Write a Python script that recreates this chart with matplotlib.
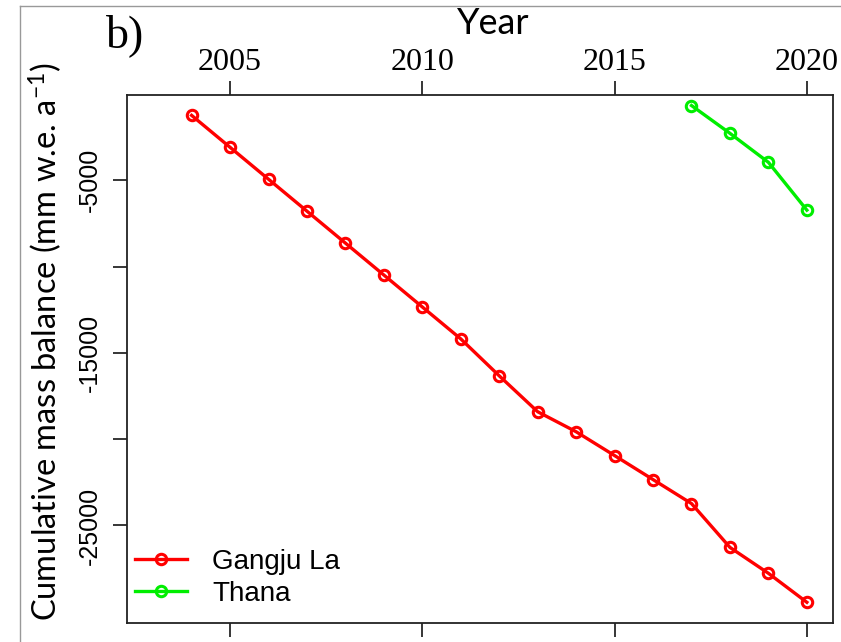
import matplotlib
matplotlib.use("Agg")
import matplotlib.pyplot as plt
from matplotlib.lines import Line2D

# Cumulative mass balance (mm w.e.)
gangju_years = [2004, 2005, 2006, 2007, 2008, 2009, 2010, 2011, 2012,
                2013, 2014, 2015, 2016, 2017, 2018, 2019, 2020]
gangju_cmb = [-1240, -3090, -4940, -6790, -8640, -10490, -12340, -14190, -16330,
              -18410, -19570, -20950, -22340, -23730, -26270, -27770, -29450]

thana_years = [2017, 2018, 2019, 2020]
thana_cmb = [-670, -2280, -3960, -6730]

x_ticks = [2005, 2010, 2015, 2020]
y_ticks = [-5000, -10000, -15000, -20000, -25000]
y_tick_labels = ["-5000", "", "-15000", "", "-25000"]

plt.rcParams["mathtext.default"] = "regular"

W, H = 841, 642
fig = plt.figure(figsize=(W / 100, H / 100), dpi=100)
ax = fig.add_axes([127 / W, 1 - 623 / H, (833 - 127) / W, (623 - 95) / H])

ax.plot(gangju_years, gangju_cmb, color="#ff0000", lw=2.4, marker="o",
        markersize=7.5, markerfacecolor="none", markeredgewidth=2.2, label="Gangju La")
ax.plot(thana_years, thana_cmb, color="#00ee00", lw=2.4, marker="o",
        markersize=7.5, markerfacecolor="none", markeredgewidth=2.2, label="Thana")

ax.set_xlim(2002.32, 2020.68)
ax.set_ylim(-30650, -60)

ax.set_xticks(x_ticks)
ax.set_xticklabels([str(x) for x in x_ticks], fontfamily="Liberation Serif", fontsize=23)
ax.set_yticks(y_ticks)
ax.set_yticklabels(y_tick_labels, fontfamily="Liberation Sans", fontsize=18,
                   rotation=90, va="center")
ax.tick_params(axis="x", top=True, bottom=True, labeltop=True, labelbottom=False,
               direction="out", length=10, width=1.1, pad=3)
ax.tick_params(axis="y", direction="out", length=10, width=1.1, pad=8)
for s in ax.spines.values():
    s.set_linewidth(1.3)
    s.set_color("#222222")

leg = ax.legend(loc="lower left", bbox_to_anchor=(8 / 706, 0.03), frameon=False,
                prop={"family": "Liberation Sans", "size": 20},
                handlelength=1.87, handletextpad=0.9, labelspacing=0.22,
                borderaxespad=0, borderpad=0)

fig.text(493 / W, 1 - 24 / H, "Year", fontfamily="Lato", fontsize=26,
         ha="center", va="center")
fig.text(125 / W, 1 - 36 / H, "b)", fontfamily="Liberation Serif", fontsize=33,
         ha="center", va="center")
fig.text(45 / W, 1 - 342 / H, "Cumulative mass balance (mm w.e. a$^{-1}$)",
         fontfamily="Lato", fontsize=23.5, rotation=90, ha="center", va="center")

# thin grey frame along the top and left edge
fig.add_artist(Line2D([20 / W, 20 / W], [0, 1 - 6 / H], color="#999999", lw=1))
fig.add_artist(Line2D([20 / W, 1], [1 - 6 / H, 1 - 6 / H], color="#999999", lw=1))

fig.savefig("out.png", dpi=100)
